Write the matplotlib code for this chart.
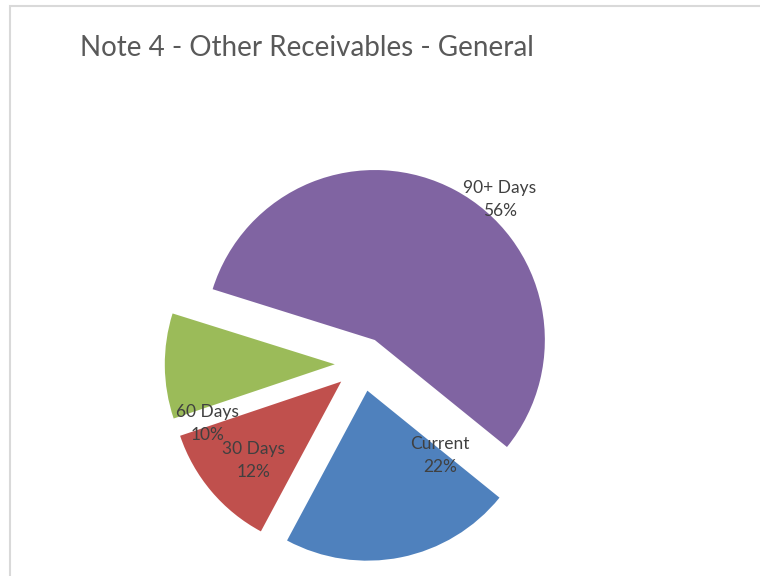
import matplotlib.pyplot as plt
from matplotlib.patches import Rectangle

# slice data, in the order Excel draws them (clockwise)
categories = ['Current', '30 Days', '60 Days', '90+ Days']
shares = [22, 12, 10, 56]
colors = ['#4F81BD', '#C0504D', '#9BBB59', '#8064A2']

# label anchor points (pie radius units, relative to pie centre)
label_pos = [(0.46, -0.54), (-0.64, -0.57), (-0.91, -0.35), (0.81, 0.97)]

W, H = 760, 576
cx, cy, r = 362, 364, 170  # pie centre and radius in pixels

fig = plt.figure(figsize=(W / 100, H / 100), dpi=100)
ax = fig.add_axes([0, 0, 1, 1])

ax.pie(shares, colors=colors, startangle=-39, counterclock=False,
       explode=[0.16] * len(shares), radius=1.0,
       wedgeprops=dict(linewidth=0))

ax.set_xlim(-cx / r, (W - cx) / r)
ax.set_ylim(-(H - cy) / r, cy / r)
ax.set_aspect('auto')
ax.axis('off')

total = sum(shares)
for name, val, (lx, ly) in zip(categories, shares, label_pos):
    ax.text(lx, ly, f"{name}\n{round(100 * val / total)}%", ha='center', va='center',
            fontsize=12.5, color='#404040', family='Lato', linespacing=1.55)

# chart frame (only top and left edges visible)
fig.add_artist(Rectangle((10 / W, -0.1), 1.2, 1 - 6 / H + 0.1, transform=fig.transFigure,
                         fill=False, edgecolor='#D9D9D9', linewidth=1.5))

fig.text(80 / W, 1 - 48 / H, 'Note 4 - Other Receivables - General', ha='left', va='center',
         fontsize=20, color='#595959', family='Lato')

fig.savefig('out.png', dpi=100)
